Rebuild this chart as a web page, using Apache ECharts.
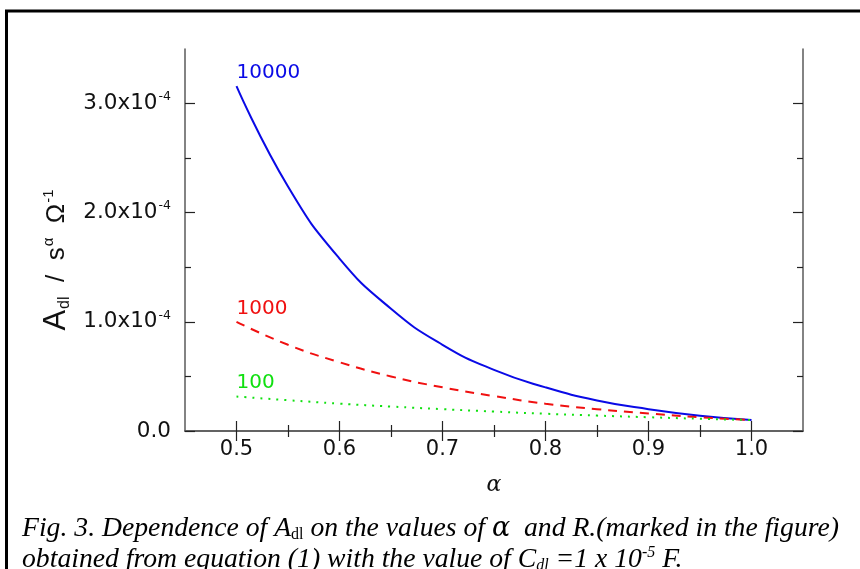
<!DOCTYPE html>
<html><head><meta charset="utf-8">
<script src="https://cdn.jsdelivr.net/npm/echarts@6/dist/echarts.min.js"></script>
<style>html,body{margin:0;padding:0;background:#fff}#c{width:860px;height:569px}</style>
</head><body><div id="c"></div>
<script>
const alphaValues = [0.50, 0.55, 0.60, 0.65, 0.70, 0.75, 0.80, 0.85, 0.90, 0.95, 1.00];
const seriesR10000 = [3.16e-4, 2.24e-4, 1.58e-4, 1.12e-4, 7.9e-5, 5.6e-5, 4.0e-5, 2.8e-5, 2.0e-5, 1.4e-5, 1.0e-5];
const seriesR1000 = [1.0e-4, 7.9e-5, 6.3e-5, 5.0e-5, 4.0e-5, 3.2e-5, 2.5e-5, 2.0e-5, 1.6e-5, 1.26e-5, 1.0e-5];
const seriesR100 = [3.16e-5, 2.82e-5, 2.51e-5, 2.24e-5, 2.0e-5, 1.78e-5, 1.58e-5, 1.41e-5, 1.26e-5, 1.12e-5, 1.0e-5];
const seriesNames = ['10000', '1000', '100'];
const xMajorTicks = [0.5, 0.6, 0.7, 0.8, 0.9, 1.0];
const xMinorTicks = [0.55, 0.65, 0.75, 0.85, 0.95];
const yMajorTicks = [0, 1e-4, 2e-4, 3e-4];
const yMinorTicks = [0.5e-4, 1.5e-4, 2.5e-4];

const FONT = 'DejaVu Sans';
const axisColor = '#5a5a5a';
const tickColor = '#222';
const xMin = 0.45, xMax = 1.05, yMin = 0, yMax = 3.5e-4;

function pairs(ys) { return alphaValues.map((a, i) => [a, ys[i]]); }

function xAx(pos, ticks, len, showLine, showLabel) {
  return {
    type: 'value', position: pos, min: xMin, max: xMax,
    axisLine: { show: showLine, lineStyle: { color: axisColor, width: 1.5 } },
    axisTick: { show: true, inside: true, length: len, customValues: ticks, lineStyle: { color: tickColor, width: 1.2 } },
    axisLabel: { show: showLabel, customValues: ticks, margin: 8, fontFamily: FONT, fontSize: 21, color: '#111',
      formatter: v => v.toFixed(1) },
    splitLine: { show: false }
  };
}
function yAx(pos, ticks, len, showLine, showLabel) {
  return {
    type: 'value', position: pos, min: yMin, max: yMax,
    axisLine: { show: showLine, lineStyle: { color: axisColor, width: 1.5 } },
    axisTick: { show: true, inside: true, length: len, customValues: ticks, lineStyle: { color: tickColor, width: 1.2 } },
    axisLabel: { show: showLabel, customValues: ticks, margin: 14, fontFamily: FONT, fontSize: 21.5, color: '#111',
      formatter: v => v === 0 ? '{n|0.0}' : '{n|' + (v * 1e4).toFixed(1) + 'x10}{s|-4}',
      rich: { n: { fontFamily: FONT, fontSize: 21.5, color: '#111' }, s: { fontFamily: FONT, fontSize: 12.5, color: '#111', verticalAlign: 'top', padding: [0, 0, 13, 1] } } },
    splitLine: { show: false }
  };
}

const xAxes = [xAx('bottom', xMajorTicks, 10, true, true), xAx('bottom', xMinorTicks, 6, false, false),
  xAx('top', xMajorTicks, 10, true, false), xAx('top', xMinorTicks, 6, false, false)];
xAxes[0].name = 'α';
xAxes[0].nameLocation = 'middle';
xAxes[0].nameGap = 43;
xAxes[0].nameTextStyle = { fontFamily: 'DejaVu Serif', fontStyle: 'italic', fontSize: 22, color: '#111' };

const yAxes = [yAx('left', yMajorTicks, 10, true, true), yAx('left', yMinorTicks, 6, false, false),
  yAx('right', yMajorTicks, 10, true, false), yAx('right', yMinorTicks, 6, false, false)];
yAxes[0].name = '{a|A}{b|dl}{c|  /  s}{d|α}{c|  Ω}{d|-1}';
yAxes[0].nameLocation = 'middle';
yAxes[0].nameRotate = 90;
yAxes[0].nameGap = 94;
yAxes[0].nameTextStyle = { padding: [0, 40, 0, 0], rich: {
  a: { fontFamily: 'Liberation Sans', fontSize: 31, color: '#111' },
  b: { fontFamily: 'Liberation Sans', fontSize: 16, color: '#111', verticalAlign: 'bottom', padding: [12, 0, 0, 1] },
  c: { fontFamily: 'Liberation Sans', fontSize: 26, color: '#111' },
  d: { fontFamily: 'Liberation Sans', fontSize: 15, color: '#111', verticalAlign: 'top', padding: [0, 0, 14, 1] }
} };

const colors = ['#0a0ae6', '#f01010', '#10e010'];
const types = ['solid', [9, 7], [2, 6]];
const dataSets = [seriesR10000, seriesR1000, seriesR100];

const series = dataSets.map((d, k) => ({
  type: 'line', name: seriesNames[k], xAxisIndex: 0, yAxisIndex: 0, smooth: true, showSymbol: false, symbol: 'none',
  lineStyle: { color: colors[k], width: 2, type: types[k] },
  data: pairs(d),
  markPoint: {
    symbol: 'circle', symbolSize: 1, itemStyle: { color: 'rgba(0,0,0,0)' },
    label: { show: true, position: 'top', align: 'left', distance: 3, formatter: seriesNames[k], fontFamily: FONT, fontSize: 20, color: colors[k] },
    data: [{ coord: [alphaValues[0], d[0]] }]
  },
  animation: false
}));

const captionRich = {
  t: { fontFamily: 'Liberation Serif', fontStyle: 'italic', fontSize: 27.7, color: '#000' },
  u: { fontFamily: 'Liberation Serif', fontSize: 16, color: '#000', verticalAlign: 'bottom', padding: [10, 0, 0, 0] },
  ui: { fontFamily: 'Liberation Serif', fontStyle: 'italic', fontSize: 16, color: '#000', verticalAlign: 'bottom', padding: [10, 0, 0, 0] },
  g: { fontFamily: 'DejaVu Serif', fontStyle: 'italic', fontSize: 27, color: '#000' },
  p: { fontFamily: 'Liberation Serif', fontStyle: 'italic', fontSize: 16, color: '#000', verticalAlign: 'top', padding: [0, 0, 13, 0] }
};

const chart = echarts.init(document.getElementById('c'));
chart.setOption({
  animation: false,
  backgroundColor: '#fff',
  grid: { left: 185, right: 57, top: 49, bottom: 138 },
  xAxis: xAxes,
  yAxis: yAxes,
  series: series,
  graphic: [
    { type: 'line', shape: { x1: 5, y1: 11, x2: 860, y2: 11 }, style: { stroke: '#000', lineWidth: 3 } },
    { type: 'line', shape: { x1: 6.5, y1: 10, x2: 6.5, y2: 569 }, style: { stroke: '#000', lineWidth: 3 } },
    { type: 'text', left: 22, top: 515, style: { text: '{t|Fig. 3. Dependence of A}{u|dl}{t| on the values of }{g|α}{t|  and R.(marked in the figure)}', rich: captionRich } },
    { type: 'text', left: 22, top: 545, style: { text: '{t|obtained from equation (1) with the value of C}{ui|dl}{t| =1 x 10}{p|-5}{t| F.}', rich: captionRich } }
  ]
});
</script></body></html>
